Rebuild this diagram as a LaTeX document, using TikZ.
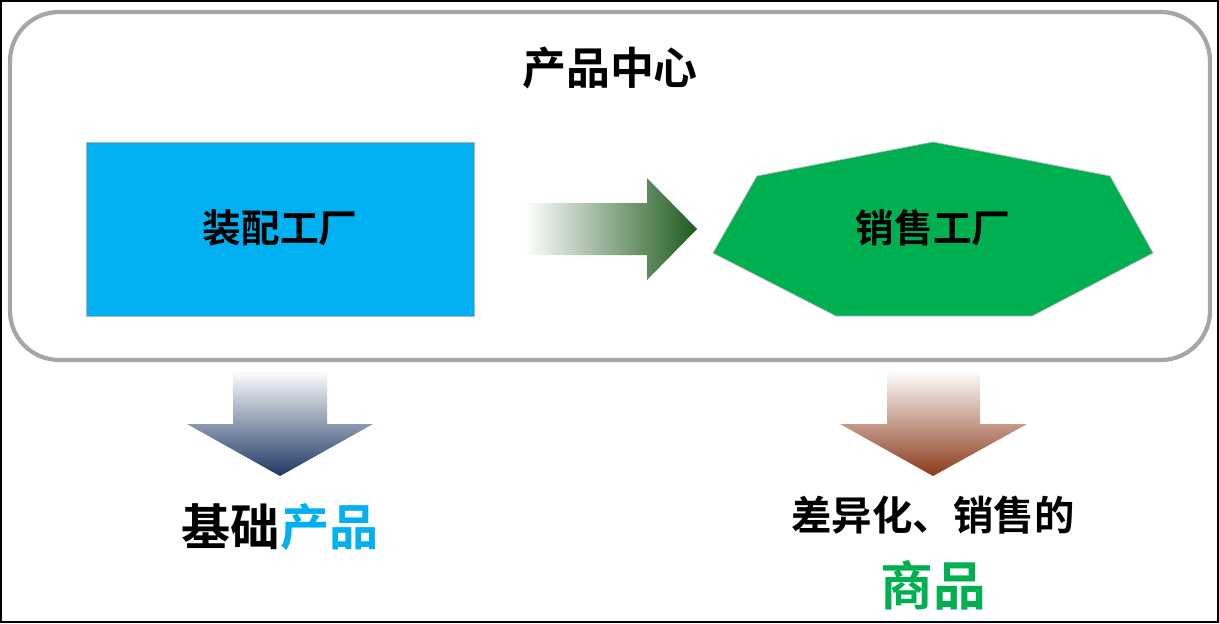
\documentclass[tikz,border=0pt]{standalone}
\usepackage{fontspec}
\usepackage{xcolor}
\usepackage{tikz}
\setmainfont{Noto Sans CJK SC}[BoldFont={Noto Sans CJK SC Bold}]
\definecolor{cyanblue}{HTML}{00B0F0}
\definecolor{leafgreen}{HTML}{00B050}
\definecolor{darkleaf}{HTML}{1E5A1E}
\definecolor{navyend}{HTML}{1F3864}
\definecolor{rustend}{HTML}{8B3A1A}
\tikzset{
  lbl/.style={font=\bfseries\fontsize{#1}{#1}\selectfont, inner sep=0pt},
}
\begin{document}
\begin{tikzpicture}[x=0.02cm,y=-0.02cm]
\useasboundingbox (0,0) rectangle (1219,623);
\draw [black, line width=0.8pt] (1,1) rectangle (1218,622);
\draw [gray!70, line width=2.4pt, rounded corners=28pt] (10,12) rectangle (1210,360);
\node [lbl=25pt] (title) at (610,68) {产品中心};

% left box and right heptagon
\fill [cyanblue] (86,142) rectangle (474,316);
\draw [gray!60, thin] (86,142) rectangle (474,316);
\node [lbl=22pt] (assembly) at (280,228) {装配工厂};
\filldraw [fill=leafgreen, draw=gray!60, thin] (713,253) -- (757,176) -- (933,142) -- (1110,176) -- (1153,253) -- (1032,316) -- (836,316) -- cycle;
\node [lbl=22pt] (sales) at (933,228) {销售工厂};

% gradient arrows
\shade [left color=white, right color=darkleaf] (525,203) -- (647,203) -- (647,178) -- (697,229) -- (647,280) -- (647,255) -- (525,255) -- cycle;
\shade [top color=white, bottom color=navyend] (233,370) -- (327,370) -- (327,424) -- (373,424) -- (280,476) -- (187,424) -- (233,424) -- cycle;
\shade [top color=white, bottom color=rustend] (887,370) -- (980,370) -- (980,424) -- (1027,424) -- (933,476) -- (840,424) -- (887,424) -- cycle;

% results
\node [lbl=28pt] (basic) at (280,527) {基础\textcolor{cyanblue}{产品}};
\node [lbl=23pt] (diff) at (933,515) {差异化、销售的};
\node [lbl=30pt, text=leafgreen] (goods) at (933,585) {商品};
\end{tikzpicture}
\end{document}
